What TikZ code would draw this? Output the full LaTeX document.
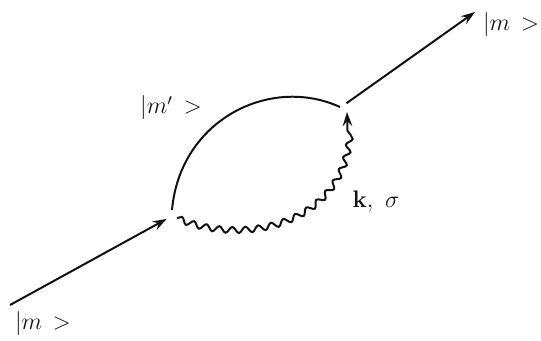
\documentclass[tikz,border=0pt]{standalone}
\usepackage{amsmath,amssymb}
\usepackage{xcolor}
\usepackage{tikz}
\usetikzlibrary{arrows.meta,positioning,decorations.pathmorphing}
\definecolor{ink}{HTML}{111111}
\tikzset{
  >={Stealth[length=2.5mm,width=1.7mm,inset=.9mm]},
  fermion/.style={->, line width=1pt, color=ink},
  prop/.style={line width=1pt, color=ink},
  photon/.style={->, line width=1pt, color=ink, decorate,
    decoration={snake, segment length=6.6bp, amplitude=1.5bp, post length=6bp}},
  state/.style={font=\large, text=ink, inner sep=0pt}
}
\begin{document}
\begin{tikzpicture}[x=0.5bp,y=-0.5bp]
  \useasboundingbox (0,0) rectangle (541,340);
  \coordinate (in) at (10,305);
  \coordinate (v1) at (172,216);
  \coordinate (v2) at (344,105);
  \coordinate (out) at (475,12);

  % external lines
  \draw[fermion,shorten >=3bp] (in) -- (v1);
  \draw[fermion,shorten <=1.5bp] (v2) -- (out);

  % loop: electron and photon
  \draw[prop] (172,210) .. controls (180,120) and (270,75) .. (340,107);
  \draw[photon] (177,218) .. controls (240,245) and (355,225) .. (347,112);

  \node[state] (mlow) at (43,324) {$|m\,>$};
  \node[state] (mmid) at (171,108) {$|m'\,>$};
  \node[state] (mtop) at (511,25) {$|m\,>$};
  \node[state] (ks) at (376,202) {$\mathbf{k},\ \sigma$};
\end{tikzpicture}
\end{document}
